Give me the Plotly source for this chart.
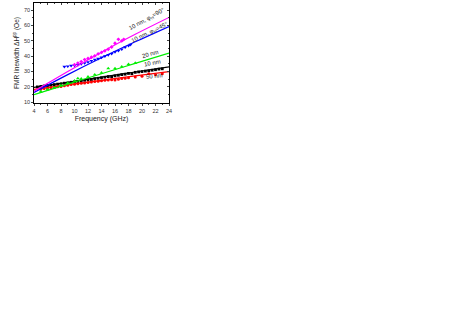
import plotly.graph_objects as go

# measured points (frequency in GHz, linewidth in Oe)
f_10nm = [4.5, 5, 5.5, 6, 6.5, 7, 7.5, 8, 8.5, 9, 9.5, 10, 10.5, 11, 11.5, 12, 12.5, 13, 13.5,
          14, 14.5, 15, 15.5, 16, 16.5, 17, 17.5, 18, 18.5, 19, 19.5, 20, 20.5, 21, 21.5, 22, 22.5, 23]
dh_10nm = [20.0, 20.3, 20.6, 20.9, 21.0, 21.5, 21.8, 22.0, 22.4, 22.6, 23.0, 23.3, 23.5, 23.9, 24.3,
           24.6, 24.8, 25.3, 25.6, 26.0, 26.3, 26.7, 26.6, 27.2, 27.6, 28.0, 28.3, 28.8, 28.6, 29.5,
           29.8, 30.0, 30.3, 30.5, 30.9, 31.2, 31.6, 31.8]

f_50nm = [5, 5.5, 6, 6.5, 7, 7.5, 8, 8.5, 9, 9.5, 10, 10.5, 11, 11.5, 12, 12.5, 13, 13.5, 14, 14.5,
          15, 15.5, 16, 16.5, 17, 17.5, 18, 19, 20, 21, 22, 23]
dh_50nm = [18.5, 18.9, 19.0, 19.4, 19.6, 20.1, 20.3, 20.7, 21.0, 21.5, 21.8, 22.0, 22.3, 22.6, 22.9,
           23.2, 23.5, 23.7, 24.0, 24.3, 24.5, 24.7, 24.5, 25.0, 25.4, 25.6, 26.0, 26.5, 27.0, 28.5,
           28.0, 28.6]

f_20nm = [5, 6, 7, 8, 9, 10, 10.5, 11, 12, 13, 14, 15, 16, 17, 18, 19]
dh_20nm = [17.0, 18.3, 19.5, 21.0, 22.5, 24.0, 25.5, 25.3, 26.6, 28.0, 29.2, 32.0, 32.0, 33.2, 34.8, 35.5]

f_45 = [8.5, 9, 9.5, 10, 10.5, 11, 11.5, 12, 12.5, 13, 13.5, 14, 14.5, 15, 15.5, 16, 16.5, 17,
        17.5, 18, 18.3]
dh_45 = [33.2, 33.4, 33.8, 34.0, 34.3, 35.0, 35.5, 36.2, 37.0, 37.8, 38.4, 39.2, 40.0, 40.8, 41.6,
         42.8, 43.5, 44.5, 45.8, 46.8, 47.5]

f_90 = [10, 10.5, 11, 11.5, 12, 12.5, 13, 13.5, 14, 14.5, 15, 15.5, 16, 16.5, 17, 17.3]
dh_90 = [34.5, 35.5, 36.5, 37.8, 38.5, 39.3, 40.2, 41.5, 42.5, 43.5, 44.5, 46.0, 48.5, 51.0, 50.0, 51.0]

# fitted curves
f_fit = [4, 9, 14, 19, 24]
fit_10nm = [19.7, 23.0, 26.4, 29.7, 33.0]
fit_50nm = [18.4, 21.4, 24.3, 27.2, 30.0]
fit_20nm = [15.0, 21.8, 28.6, 35.3, 42.0]
fit_45 = [16.4, 28.0, 39.0, 49.4, 59.4]
fit_90 = [17.2, 30.0, 42.6, 54.3, 65.3]

series = [
    ("10 nm", f_10nm, dh_10nm, fit_10nm, "#000000", "square", 2.8),
    ("50 nm", f_50nm, dh_50nm, fit_50nm, "#ff0000", "circle", 3),
    ("20 nm", f_20nm, dh_20nm, fit_20nm, "#00ee00", "triangle-up", 3.5),
    ("10 nm 45", f_45, dh_45, fit_45, "#0000ff", "triangle-down", 3.5),
    ("10 nm 90", f_90, dh_90, fit_90, "#ff00ff", "diamond", 3),
]

fig = go.Figure()
for name, fx, fy, fit, color, sym, size in series:
    fig.add_trace(go.Scatter(x=f_fit, y=fit, mode="lines", line=dict(color=color, width=1.2),
                             line_shape="spline", showlegend=False, hoverinfo="skip"))
    fig.add_trace(go.Scatter(x=fx, y=fy, mode="markers", name=name, showlegend=False,
                             marker=dict(color=color, symbol=sym, size=size, line=dict(width=0))))

# empty trace so the mirrored top/right axes get drawn
fig.add_trace(go.Scatter(x=[], y=[], xaxis="x2", yaxis="y2", showlegend=False, hoverinfo="skip"))

labels = [
    (20.7, 64.0, "10 nm, φ<sub>H</sub>=90°", -29),
    (21.2, 55.3, "10 nm, φ<sub>H</sub>=45°", -26),
    (21.2, 41.2, "20 nm", -16),
    (21.5, 35.4, "10 nm", -10),
    (21.9, 26.9, "50 nm", -5),
]
for x, y, txt, ang in labels:
    fig.add_annotation(x=x, y=y, text=txt, showarrow=False, textangle=ang,
                       font=dict(size=6, color="#222222"))

axis_font = dict(family="Liberation Sans, Arial, sans-serif", size=5.5, color="#333333")
title_font = dict(family="Liberation Sans, Arial, sans-serif", size=7, color="#222222")
fig.update_layout(
    template="none",
    width=463, height=328,
    paper_bgcolor="white", plot_bgcolor="white",
    margin=dict(l=34, r=294, t=3, b=225),
    font=dict(family="Liberation Sans, Arial, sans-serif", color="#222222"),
    xaxis=dict(range=[4, 24], dtick=2, showgrid=False, zeroline=False, showline=True, automargin=False,
               linecolor="black", linewidth=0.8, ticks="outside", ticklen=2, tickwidth=0.8,
               tickfont=axis_font, minor=dict(dtick=1, ticks="outside", ticklen=1, tickwidth=0.6),
               title=dict(text="Frequency (GHz)", font=title_font, standoff=3)),
    yaxis=dict(range=[9.5, 74.7], dtick=10, showgrid=False, zeroline=False, showline=True, automargin=False,
               linecolor="black", linewidth=0.8, ticks="outside", ticklen=2, tickwidth=0.8,
               tickfont=axis_font, minor=dict(dtick=5, ticks="outside", ticklen=1, tickwidth=0.6),
               title=dict(text="FMR linewidth ΔH<sup>pp</sup> (Oe)",
                          font=dict(family="Liberation Sans, Arial, sans-serif", size=6.5, color="#222222"),
                          standoff=3)),
    xaxis2=dict(range=[4, 24], dtick=2, overlaying="x", side="top", showgrid=False, zeroline=False,
                showline=True, linecolor="black", linewidth=0.8, ticks="inside", ticklen=2, automargin=False,
                tickwidth=0.8, showticklabels=False,
                minor=dict(dtick=1, ticks="inside", ticklen=1, tickwidth=0.6)),
    yaxis2=dict(range=[9.5, 74.7], dtick=10, overlaying="y", side="right", showgrid=False,
                zeroline=False, showline=True, linecolor="black", linewidth=0.8, ticks="inside",
                ticklen=2, tickwidth=0.8, showticklabels=False, automargin=False,
                minor=dict(dtick=5, ticks="inside", ticklen=1, tickwidth=0.6)),
)

# drop the default page margin so the figure sits at the window's corner
fig.write_html("out.html", config={"displayModeBar": False},
               post_script="document.body.style.margin='0';")
